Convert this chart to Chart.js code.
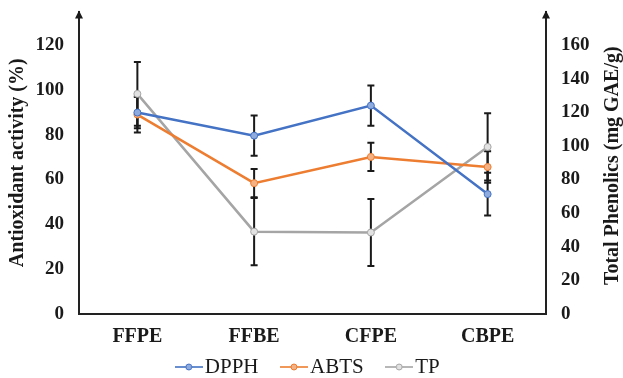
<!DOCTYPE html>
<html>
<head>
<meta charset="utf-8">
<script src="https://cdn.jsdelivr.net/npm/chart.js@4.4.0/dist/chart.umd.min.js"></script>
<style>
    html, body { margin: 0; padding: 0; background: #fff; }
    #wrap { width: 623px; height: 378px; }
</style>
</head>
<body>
<div id="wrap"><canvas id="chart"></canvas></div>
<script>
const categories = ['FFPE', 'FFBE', 'CFPE', 'CBPE'];
const dpphValues = [89.9, 79.6, 93.0, 53.5];
const dpphErrors = [7, 9, 9, 9.5];
const abtsValues = [89.0, 58.4, 70.1, 65.6];
const abtsErrors = [8, 6.3, 6.3, 7];
const tpValues = [131, 49, 48.5, 99.4];
const tpErrors = [19, 20, 20, 20];
const leftTicks = [0, 20, 40, 60, 80, 100, 120];
const rightTicks = [0, 20, 40, 60, 80, 100, 120, 140, 160];

const serif = "'Liberation Serif', 'Times New Roman', serif";
const ink = '#1a1a1a';

Chart.defaults.font.family = serif;
Chart.defaults.color = ink;

// little "line + circle" picture used as legend symbol
function legendSymbol(color, fill) {
    const c = document.createElement('canvas');
    c.width = 28;
    c.height = 10;
    const g = c.getContext('2d');
    g.strokeStyle = color;
    g.lineWidth = 1.6;
    g.beginPath();
    g.moveTo(0, 5);
    g.lineTo(28, 5);
    g.stroke();
    g.beginPath();
    g.arc(14, 5, 3, 0, Math.PI * 2);
    g.fillStyle = fill;
    g.fill();
    g.lineWidth = 1;
    g.stroke();
    return c;
}

const errorBars = {
    id: 'errorBars',
    beforeDatasetsDraw(chart) {
        const ctx = chart.ctx;
        const xs = chart.scales.x;
        ctx.save();
        ctx.strokeStyle = ink;
        ctx.lineWidth = 2;
        chart.data.datasets.forEach(ds => {
            const ys = chart.scales[ds.yAxisID];
            ds.data.forEach((v, i) => {
                const px = xs.getPixelForValue(i);
                const top = ys.getPixelForValue(v + ds.errors[i]);
                const bot = ys.getPixelForValue(v - ds.errors[i]);
                ctx.beginPath();
                ctx.moveTo(px, top);
                ctx.lineTo(px, bot);
                ctx.moveTo(px - 3.5, top);
                ctx.lineTo(px + 3.5, top);
                ctx.moveTo(px - 3.5, bot);
                ctx.lineTo(px + 3.5, bot);
                ctx.stroke();
            });
        });
        ctx.restore();
    }
};

const axisExtras = {
    id: 'axisExtras',
    afterLayout(chart) {
        // pull the legend row up, close under the category labels
        chart.legend.top = chart.height - 51.5;
    },
    afterDraw(chart) {
        const ctx = chart.ctx;
        const a = chart.chartArea;
        ctx.save();
        ctx.fillStyle = ink;
        [a.left, a.right].forEach(x => {
            ctx.beginPath();
            ctx.moveTo(x, a.top - 1);
            ctx.lineTo(x - 4, a.top + 7);
            ctx.lineTo(x + 4, a.top + 7);
            ctx.closePath();
            ctx.fill();
        });
        // right title reads bottom to top
        ctx.font = 'bold 20px ' + serif;
        ctx.textAlign = 'center';
        ctx.textBaseline = 'middle';
        ctx.translate(613, (a.top + a.bottom) / 2 + 3);
        ctx.rotate(-Math.PI / 2);
        ctx.fillText('Total Phenolics (mg GAE/g)', 0, 0);
        ctx.restore();
    }
};

const fitY = width => s => {
    s.width = width;
    s.paddingTop = 11.5;
    s.paddingBottom = 11.5;
};

new Chart(document.getElementById('chart'), {
    type: 'line',
    data: {
        labels: categories,
        datasets: [{
            label: 'DPPH',
            data: dpphValues,
            errors: dpphErrors,
            yAxisID: 'y',
            borderColor: '#4472C4',
            backgroundColor: '#8FAADC',
            pointBorderColor: '#4472C4',
            symbol: legendSymbol('#4472C4', '#8FAADC')
        }, {
            label: 'ABTS',
            data: abtsValues,
            errors: abtsErrors,
            yAxisID: 'y',
            borderColor: '#ED7D31',
            backgroundColor: '#F4B183',
            pointBorderColor: '#ED7D31',
            symbol: legendSymbol('#ED7D31', '#F4B183')
        }, {
            label: 'TP',
            data: tpValues,
            errors: tpErrors,
            yAxisID: 'y2',
            borderColor: '#A5A5A5',
            backgroundColor: '#E2E2E2',
            pointBorderColor: '#A5A5A5',
            symbol: legendSymbol('#A5A5A5', '#E2E2E2')
        }]
    },
    options: {
        responsive: true,
        maintainAspectRatio: false,
        animation: false,
        devicePixelRatio: 1,
        layout: { padding: 0 },
        elements: {
            line: { borderWidth: 2.5, tension: 0 },
            point: { radius: 3.5, borderWidth: 1 }
        },
        plugins: {
            tooltip: { enabled: false },
            legend: {
                position: 'bottom',
                maxHeight: 31,
                labels: {
                    color: ink,
                    font: { family: serif, size: 21, weight: 'normal' },
                    usePointStyle: true,
                    pointStyleWidth: 11,
                    boxHeight: 10,
                    padding: 30,
                    generateLabels: chart => chart.data.datasets.map((ds, i) => ({
                        text: ds.label,
                        pointStyle: ds.symbol,
                        fontColor: ink,
                        datasetIndex: i,
                        lineWidth: 0
                    }))
                }
            }
        },
        scales: {
            x: {
                offset: true,
                afterFit: s => { s.height = 33; },
                grid: { display: false, drawTicks: false },
                border: { color: '#222', width: 2 },
                ticks: { color: ink, padding: 11, font: { family: serif, size: 20, weight: 'bold' } }
            },
            y: {
                position: 'left',
                min: 0,
                max: 135,
                afterBuildTicks: s => { s.ticks = leftTicks.map(v => ({ value: v })); },
                afterFit: fitY(79),
                grid: { display: false, drawTicks: false },
                border: { color: '#222', width: 2 },
                ticks: { color: ink, padding: 15, font: { family: serif, size: 19, weight: 'bold' } },
                title: {
                    display: true,
                    text: 'Antioxidant activity (%)',
                    color: ink,
                    padding: { top: 6 },
                    font: { family: serif, size: 20, weight: 'bold' }
                }
            },
            y2: {
                position: 'right',
                min: 0,
                max: 180,
                afterBuildTicks: s => { s.ticks = rightTicks.map(v => ({ value: v })); },
                afterFit: fitY(77),
                grid: { display: false, drawTicks: false },
                border: { color: '#222', width: 2 },
                ticks: { color: ink, padding: 15, font: { family: serif, size: 19, weight: 'bold' } }
            }
        }
    },
    plugins: [errorBars, axisExtras]
});
</script>
</body>
</html>
